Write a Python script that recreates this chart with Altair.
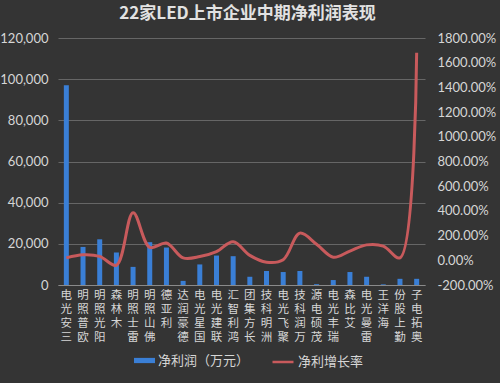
import altair as alt
import pandas as pd

companies = ["三安光电", "欧普照明", "阳光照明", "木林森", "雷士照明", "佛山照明", "利亚德",
             "德豪润达", "国星光电", "联建光电", "鸿利智汇", "长方集团", "洲明科技", "聚飞光电",
             "万润科技", "茂硕电源", "瑞丰光电", "艾比森", "雷曼光电", "海洋王", "勤上股份", "奥拓电子"]
net_profit = [97000, 18500, 22200, 15800, 8800, 20800, 18200, 2000, 10000, 14300, 14000, 4000,
              6800, 6300, 6800, 400, 2400, 6300, 4000, 300, 3000, 3000]
growth = [0.20, 0.45, 0.32, -0.40, 3.85, 1.05, 1.40, 0.20, 0.30, 0.70, 1.50, 0.40,
          -0.15, 0.05, 2.20, 1.30, 0.25, 0.75, 1.25, 1.15, 0.20, 16.80]

df = pd.DataFrame({"company": companies, "profit": net_profit, "growth": growth})

BAR_LABEL = "净利润（万元）"
LINE_LABEL = "净利增长率"
TEXT = "#d6d6d6"
FONT = "Noto Sans CJK SC"

x_enc = alt.X("company:N", sort=None, title=None,
              scale=alt.Scale(paddingInner=0.0, paddingOuter=0.0),
              axis=alt.Axis(labelExpr="reverse(split(datum.label, ''))", labelAngle=0,
                            labelAlign="center", labelBaseline="top", labelLineHeight=14,
                            labelFontSize=11.5, labelColor=TEXT, labelFont=FONT,
                            labelPadding=4, labelOverlap=False, ticks=False,
                            domain=True, domainColor="#8a8a8a", grid=False))

bars = alt.Chart(df).mark_bar(size=5).encode(
    x=x_enc,
    y=alt.Y("profit:Q", title=None,
            scale=alt.Scale(domain=[0, 120000], nice=False),
            axis=alt.Axis(values=[0, 20000, 40000, 60000, 80000, 100000, 120000], format=",d",
                          grid=True, gridColor="#666666", gridWidth=1, domain=False, ticks=False,
                          labelColor=TEXT, labelFontSize=13, labelFont="Lato", labelPadding=10)),
    fill=alt.Fill("s:N", title=None,
                  scale=alt.Scale(domain=[BAR_LABEL], range=["#3a7fd6"]),
                  legend=alt.Legend(orient="none", legendX=76, legendY=312, symbolType="M-1,-0.25H1V0.25H-1Z",
                                    symbolSize=441, symbolStrokeWidth=0, labelFontSize=13, labelColor=TEXT,
                                    labelFont=FONT, labelOffset=3, padding=0)),
).transform_calculate(s=f"'{BAR_LABEL}'")

line = alt.Chart(df).mark_line(interpolate="catmull-rom", strokeWidth=3).encode(
    x=alt.X("company:N", sort=None),
    y=alt.Y("growth:Q", title=None,
            scale=alt.Scale(domain=[-2, 18], nice=False),
            axis=alt.Axis(orient="right", values=[-2, 0, 2, 4, 6, 8, 10, 12, 14, 16, 18],
                          labelExpr="replace(format(datum.value, '.2%'), '\u2212', '-')",
                          grid=False, domain=False, ticks=False,
                          labelColor=TEXT, labelFontSize=13, labelFont="Lato", labelPadding=12)),
    stroke=alt.Stroke("t:N", title=None,
                      scale=alt.Scale(domain=[LINE_LABEL], range=["#c85a5c"]),
                      legend=alt.Legend(orient="none", legendX=213, legendY=312, symbolType="stroke",
                                        symbolSize=441, symbolStrokeWidth=2.5, labelFontSize=13,
                                        labelColor=TEXT, labelFont=FONT, labelOffset=3, padding=0)),
).transform_calculate(t=f"'{LINE_LABEL}'")

chart = alt.layer(bars, line).resolve_scale(y="independent", fill="independent", stroke="independent").properties(
    width=367, height=247,
    padding={"left": 58, "top": 38, "right": 75, "bottom": 98},
    autosize=alt.AutoSizeParams(type="none"),
    background="#343434",
    title=alt.TitleParams("22家LED上市企业中期净利润表现", fontSize=17, font=FONT, fontWeight="bold",
                          color="#e2e2e2", offset=9, dx=6, anchor="middle"),
).configure_view(stroke=None)

chart.save("out.html", embed_options={"renderer": "svg", "actions": False})
